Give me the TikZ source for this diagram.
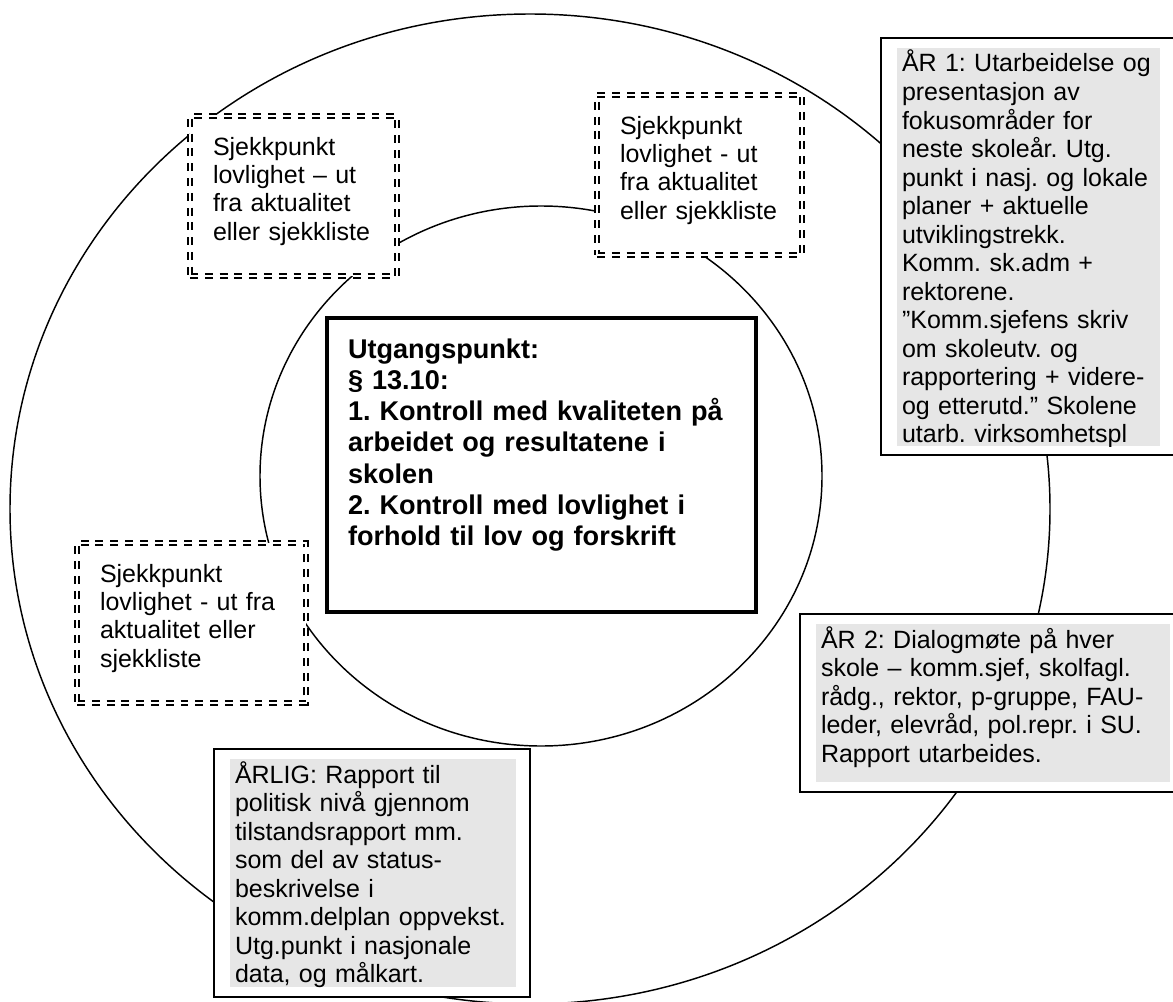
\documentclass[tikz,border=0pt]{standalone}
\usepackage{fontspec}
\setmainfont{Liberation Sans}
\usetikzlibrary{positioning}
\definecolor{shade}{HTML}{E6E6E6}
\frenchspacing

\begin{document}
\begin{tikzpicture}[x=0.48pt,y=-0.48pt,
    ring/.style={line width=0.7pt},
    chk/.style={draw,double,double distance=1.1pt,line width=0.85pt,
        dash pattern=on 3.8pt off 3.3pt,fill=white,anchor=north west,
        outer sep=0pt,inner ysep=0pt,inner xsep=11.04pt,align=left,
        text height=18.72pt,text depth=58.08pt,
        font=\fontsize{12pt}{13.6pt}\selectfont},
    frame/.style={draw,line width=0.9pt,fill=white,anchor=north west,outer sep=0pt},
    shd/.style={fill=shade,outer sep=0pt,inner ysep=0pt,inner xsep=2.4pt,
        align=left,text height=11.52pt,
        font=\fontsize{12pt}{13.68pt}\selectfont},
    core/.style={draw,line width=2pt,fill=white,anchor=north west,outer sep=0pt,
        inner ysep=0pt,inner xsep=10.08pt,align=left,text width=185.76pt,
        text height=19.2pt,text depth=121.92pt,
        font=\fontsize{13pt}{15pt}\selectfont\bfseries}]

    \useasboundingbox (0,0) rectangle (1173,1001);

    \draw[ring] (530,509) ellipse [x radius=520,y radius=495];
    \draw[ring] (541,476) ellipse [x radius=281,y radius=270];

    \node[chk,text width=77.28pt] (chkA) at (190,116)
        {Sjekkpunkt\\lovlighet – ut\\fra aktualitet\\eller sjekkliste};
    \node[chk,text width=76.32pt] (chkB) at (597,95)
        {Sjekkpunkt\\lovlighet - ut\\fra aktualitet\\eller sjekkliste};
    \node[chk,text width=87.84pt] (chkC) at (77,543)
        {Sjekkpunkt\\lovlighet - ut fra\\aktualitet eller\\sjekkliste};

    \node[core] (start) at (327,318)
        {Utgangspunkt:\\§ 13.10:\\1. Kontroll med kvaliteten på\\arbeidet og resultatene i\\skolen\\2. Kontroll med lovlighet i\\forhold til lov og forskrift};

    \node[frame,minimum width=141.6pt,minimum height=200.16pt] (aarI) at (881,38) {};
    \begin{scope}
        \clip ([shift={(16,10)}]aarI.north west) rectangle ++(263,398);
        \node[shd,text width=121.44pt,text depth=179.52pt,
            below right=4.8pt and 7.68pt of aarI.north west] (aarItxt)
            {ÅR 1: Utarbeidelse og\\presentasjon av\\fokusområder for\\neste skoleår. Utg.\\punkt i nasj. og lokale\\planer + aktuelle\\utviklingstrekk.\\Komm. sk.adm +\\rektorene.\\”Komm.sjefens skriv\\om skoleutv. og\\rapportering + videre-\\og etterutd.” Skolene\\utarb. virksomhetspl};
    \end{scope}

    \node[frame,minimum width=180.48pt,minimum height=85.44pt] (aarII) at (800,614) {};
    \node[shd,text width=165.12pt,text depth=64.32pt,
        below right=4.8pt and 7.68pt of aarII.north west] (aarIItxt)
        {ÅR 2: Dialogmøte på hver\\skole – komm.sjef, skolfagl.\\rådg., rektor, p-gruppe, FAU-\\leder, elevråd, pol.repr. i SU.\\Rapport utarbeides.};

    \node[frame,minimum width=151.68pt,minimum height=119.04pt] (yearly) at (214,749) {};
    \node[shd,text width=132.48pt,text depth=97.92pt,
        below right=4.8pt and 7.68pt of yearly.north west] (yearlytxt)
        {ÅRLIG: Rapport til\\politisk nivå gjennom\\tilstandsrapport mm.\\som del av status-\\beskrivelse i\\komm.delplan oppvekst.\\Utg.punkt i nasjonale\\data, og målkart.};
\end{tikzpicture}
\end{document}
